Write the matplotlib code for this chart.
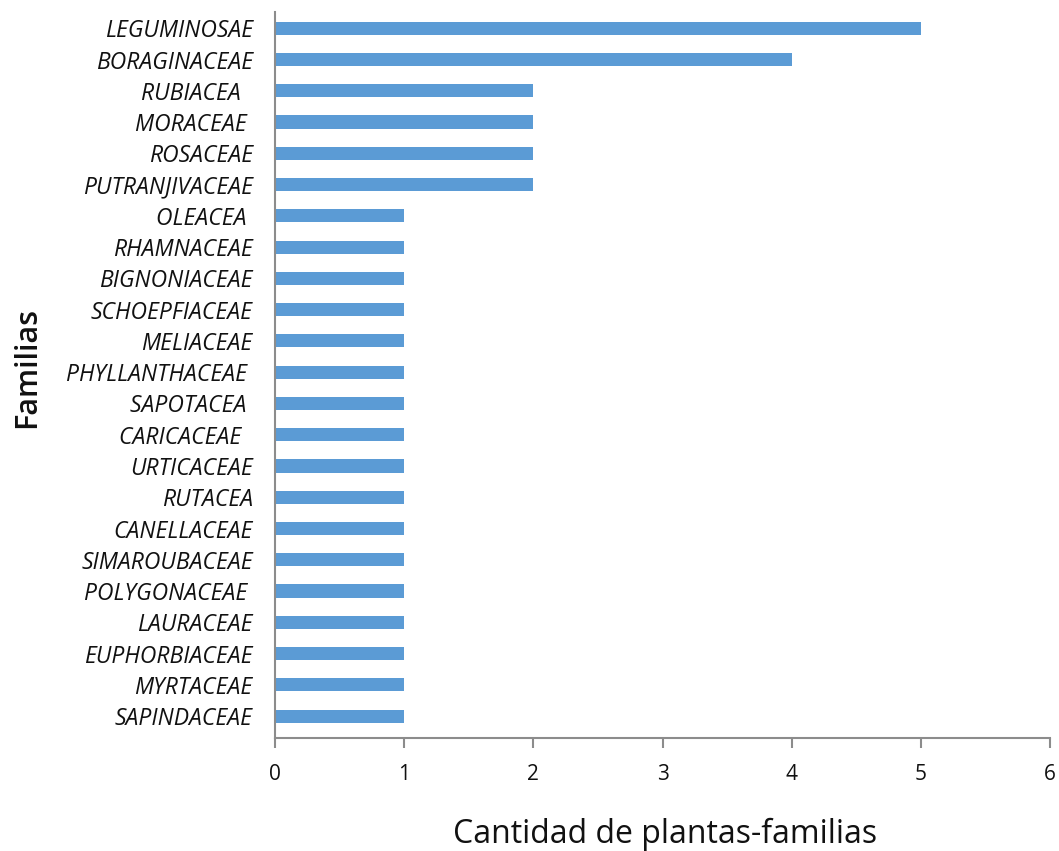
import matplotlib
matplotlib.use("Agg")
import matplotlib.pyplot as plt

familias = [
    "LEGUMINOSAE", "BORAGINACEAE", "RUBIACEA  ", "MORACEAE ", "ROSACEAE",
    "PUTRANJIVACEAE", "OLEACEA ", "RHAMNACEAE", "BIGNONIACEAE", "SCHOEPFIACEAE",
    "MELIACEAE", "PHYLLANTHACEAE ", "SAPOTACEA ", "CARICACEAE  ", "URTICACEAE",
    "RUTACEA", "CANELLACEAE", "SIMAROUBACEAE", "POLYGONACEAE ", "LAURACEAE",
    "EUPHORBIACEAE", "MYRTACEAE", "SAPINDACEAE",
]
cantidad = [5, 4, 2, 2, 2, 2, 1, 1, 1, 1, 1, 1, 1, 1, 1, 1, 1, 1, 1, 1, 1, 1, 1]
x_ticks = [0, 1, 2, 3, 4, 5, 6]

plt.rcParams["font.family"] = ["Open Sans", "DejaVu Sans"]

fig = plt.figure(figsize=(10.59, 8.51), dpi=100)
ax = fig.add_axes([275 / 1059, 1 - 738 / 851, (1050 - 275) / 1059, (738 - 12) / 851])

pos = list(range(len(familias)))
ax.barh(pos, cantidad, height=0.42, color="#5B9BD5", zorder=2)

ax.set_xlim(0, 6)
ax.set_ylim(22.7, -0.52)
ax.set_xticks(x_ticks)
ax.set_xticklabels([str(t) for t in x_ticks], fontsize=15)
ax.set_yticks(pos)
ax.set_yticklabels(familias, fontsize=16.5, style="italic")

for s in ["top", "right"]:
    ax.spines[s].set_visible(False)
for s in ["left", "bottom"]:
    ax.spines[s].set_color("#8c8c8c")
    ax.spines[s].set_linewidth(1.5)

ax.tick_params(axis="x", length=7, width=1.5, color="#8c8c8c", pad=12, labelcolor="#111111")
ax.tick_params(axis="y", length=0, pad=16, labelcolor="#111111")

fig.text(665 / 1059, 1 - 834 / 851, "Cantidad de plantas-familias", fontsize=23,
         ha="center", va="center", color="#111111")
fig.text(27 / 1059, 1 - 368 / 851, "Familias", fontsize=22, fontweight="semibold",
         rotation=90, ha="center", va="center", color="#111111")

fig.savefig("out.png", dpi=100, facecolor="white")
